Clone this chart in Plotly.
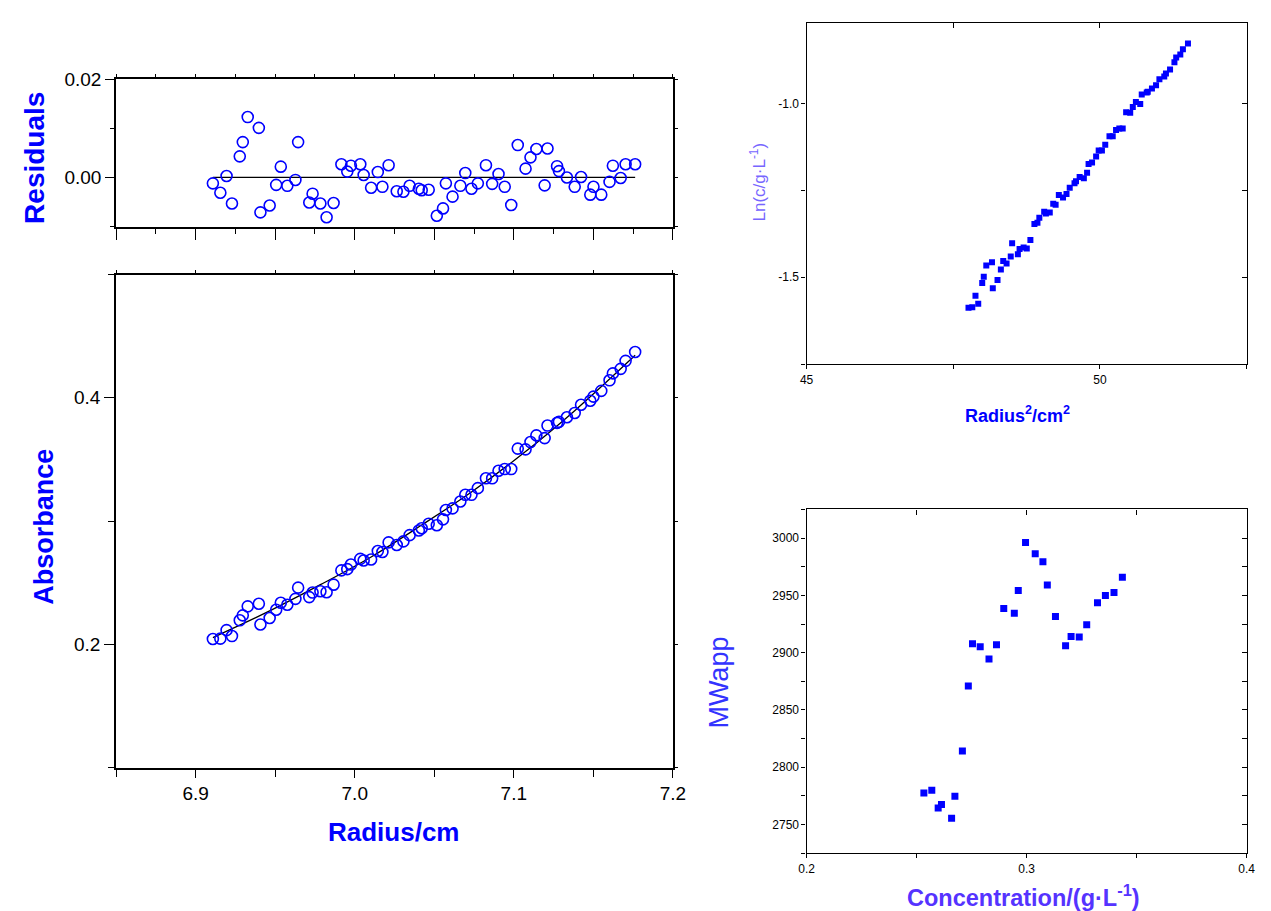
import numpy as np
import plotly.graph_objects as go

# ---- sedimentation-equilibrium scan: radius, absorbance, fit residuals ----
radius = [
    6.9108, 6.9155, 6.9194, 6.9228, 6.9277, 6.9296, 6.9327, 6.9397, 6.9407, 6.9465,
    6.9506, 6.9535, 6.9576, 6.9627, 6.9644, 6.9714, 6.9735, 6.9784, 6.9823, 6.9867,
    6.9916, 6.9953, 6.9976, 7.0035, 7.0056, 7.0103, 7.0145, 7.0174, 7.0213, 7.0264,
    7.0306, 7.0345, 7.0403, 7.0421, 7.0465, 7.0516, 7.0555, 7.0573, 7.0615, 7.0664,
    7.0695, 7.0734, 7.0774, 7.0825, 7.0864, 7.0904, 7.0943, 7.0984, 7.1025, 7.1074,
    7.1105, 7.1142, 7.1194, 7.1212, 7.1272, 7.1284, 7.1334, 7.1383, 7.1423, 7.1481,
    7.1501, 7.1550, 7.1602, 7.1623, 7.1672, 7.1703, 7.1763,
]
absorbance = [
    0.2043, 0.2046, 0.2115, 0.2067, 0.2195, 0.2235, 0.2308, 0.2329, 0.2161, 0.2214,
    0.2281, 0.2337, 0.2321, 0.2369, 0.2460, 0.2383, 0.2420, 0.2431, 0.2423, 0.2484,
    0.2600, 0.2610, 0.2648, 0.2693, 0.2680, 0.2688, 0.2757, 0.2749, 0.2827, 0.2806,
    0.2835, 0.2886, 0.2924, 0.2942, 0.2978, 0.2966, 0.3014, 0.3090, 0.3103, 0.3159,
    0.3213, 0.3213, 0.3267, 0.3347, 0.3347, 0.3408, 0.3422, 0.3422, 0.3588, 0.3582,
    0.3641, 0.3695, 0.3673, 0.3775, 0.3797, 0.3805, 0.3842, 0.3877, 0.3944, 0.3976,
    0.4010, 0.4056, 0.4142, 0.4198, 0.4235, 0.4300, 0.4372,
]
residuals = [
    -0.0012, -0.0031, 0.0003, -0.0053, 0.0043, 0.0072, 0.0123, 0.0101, -0.0071, -0.0057,
    -0.0015, 0.0022, -0.0017, -0.0005, 0.0072, -0.0051, -0.0033, -0.0053, -0.0081, -0.0052,
    0.0027, 0.0012, 0.0024, 0.0027, 0.0005, -0.0021, 0.0011, -0.0019, 0.0025, -0.0028,
    -0.0029, -0.0017, -0.0023, -0.0026, -0.0025, -0.0078, -0.0063, -0.0012, -0.0039, -0.0017,
    0.0009, -0.0023, -0.0012, 0.0025, -0.0013, 0.0007, -0.0019, -0.0056, 0.0066, 0.0018,
    0.0041, 0.0058, -0.0016, 0.0059, 0.0023, 0.0013, 0.0000, -0.0019, 0.0001, -0.0035,
    -0.0019, -0.0035, -0.0009, 0.0024, -0.0001, 0.0027, 0.0027,
]

# fitted single-species curve
fit_radius = [6.9108, 6.9465, 6.9784, 7.0103, 7.0421, 7.0734, 7.1074, 7.1383, 7.1763]
fit_absorbance = [0.2055, 0.2271, 0.2484, 0.2709, 0.2968, 0.3236, 0.3564, 0.3896, 0.4345]

# apparent molecular weight vs local concentration
concentration = [
    0.2533, 0.2569, 0.2598, 0.2613, 0.2659, 0.2674, 0.2708, 0.2735, 0.2754, 0.2789,
    0.2829, 0.2863, 0.2896, 0.2944, 0.2962, 0.2995, 0.3039, 0.3074, 0.3094, 0.3131,
    0.3177, 0.3202, 0.3239, 0.3273, 0.3322, 0.3358, 0.3397, 0.3435,
]
mw_app = [
    2777.6, 2779.9, 2764.5, 2767.4, 2755.5, 2774.7, 2814.2, 2870.8, 2907.8, 2905.2,
    2894.5, 2907.0, 2938.6, 2934.5, 2954.2, 2996.2, 2986.4, 2979.4, 2959.1, 2931.6,
    2906.1, 2914.2, 2913.6, 2924.3, 2943.5, 2949.9, 2952.5, 2965.8,
]

# ln(c) vs r^2 transform (c in g/L, unit extinction)
r_squared = np.array(radius) ** 2
ln_c = np.log(np.array(absorbance))

W, H = 1271, 911
FONT = "Liberation Sans, Arial, sans-serif"
BLUE = "#0000ff"


def dx(a, b):
    return [a / W, b / W]


def dy(top, bottom):
    return [1 - bottom / H, 1 - top / H]


def axis(domain, anchor, rng, lw, ticks, ticklen, show_labels=False, font_size=12,
         dtick=None, tick0=None, fmt=None, minor=None, side=None, overlaying=None,
         tickvals=None, ticktext=None):
    a = dict(
        domain=domain, anchor=anchor, range=rng, showline=True, linecolor="black",
        linewidth=lw, ticks=ticks, ticklen=ticklen, tickwidth=1.3, tickcolor="black",
        showgrid=False, zeroline=False, showticklabels=show_labels,
        tickfont=dict(family=FONT, size=font_size, color="black"), fixedrange=True,
    )
    if tickvals is not None:
        a.update(tickmode="array", tickvals=tickvals, ticktext=ticktext)
    else:
        a.update(tickmode="linear", dtick=dtick, tick0=tick0)
    if fmt:
        a["tickformat"] = fmt
    if minor:
        a["minor"] = minor
    if side:
        a["side"] = side
    if overlaying:
        a["overlaying"] = overlaying
        a.pop("domain")
    return a


def minor(dtick, tick0, ticks, ticklen):
    return dict(dtick=dtick, tick0=tick0, ticks=ticks, ticklen=ticklen,
                tickwidth=1.3, tickcolor="black", showgrid=False)


fig = go.Figure()

# --- residuals panel ---
fig.add_trace(go.Scatter(x=[radius[0], radius[-1]], y=[0, 0], mode="lines",
                         line=dict(color="black", width=1.3), xaxis="x", yaxis="y",
                         hoverinfo="skip", showlegend=False))
fig.add_trace(go.Scatter(x=radius, y=residuals, mode="markers",
                         marker=dict(symbol="circle-open", size=11, color=BLUE,
                                     line=dict(width=1.6, color=BLUE)),
                         xaxis="x", yaxis="y", showlegend=False))

# --- absorbance panel ---
fig.add_trace(go.Scatter(x=fit_radius, y=fit_absorbance, mode="lines",
                         line=dict(color="black", width=1.3, shape="spline"),
                         xaxis="x2", yaxis="y2", hoverinfo="skip", showlegend=False))
fig.add_trace(go.Scatter(x=radius, y=absorbance, mode="markers",
                         marker=dict(symbol="circle-open", size=11, color=BLUE,
                                     line=dict(width=1.6, color=BLUE)),
                         xaxis="x2", yaxis="y2", showlegend=False))

# --- ln(c) vs r^2 panel ---
fig.add_trace(go.Scatter(x=r_squared, y=ln_c, mode="markers",
                         marker=dict(symbol="square", size=6, color=BLUE),
                         xaxis="x3", yaxis="y3", showlegend=False))

# --- MWapp vs concentration panel ---
fig.add_trace(go.Scatter(x=concentration, y=mw_app, mode="markers",
                         marker=dict(symbol="square", size=7, color=BLUE),
                         xaxis="x4", yaxis="y4", showlegend=False))

# empty traces carrying the mirrored (top/right) axes
for i in range(5, 9):
    fig.add_trace(go.Scatter(x=[None], y=[None], xaxis=f"x{i}", yaxis=f"y{i}",
                             showlegend=False, hoverinfo="skip"))

R_RES = [-0.01, 0.02]
R_X = [6.85, 7.2]
R_ABS = [0.1, 0.5]
R_R2 = [45, 52.5]
R_LN = [-1.75, -0.768]
R_C = [0.2, 0.4]
R_MW = [2725, 3025]

L_DOM = dx(110, 676)
R_DOM = dx(812, 1259.5)
RES_DOM = dy(70, 219)
ABS_DOM = dy(267.5, 766)
LN_DOM = dy(13, 358)
MW_DOM = dy(505, 852.5)

fig.update_layout(
    width=W, height=H, margin=dict(l=0, r=0, t=0, b=0),
    paper_bgcolor="white", plot_bgcolor="white", showlegend=False,
    font=dict(family=FONT),
    # residuals
    xaxis=axis(L_DOM, "y", R_X, 2, "outside", 11, dtick=0.05, tick0=6.85,
               minor=minor(0.025, 6.85, "outside", 5)),
    yaxis=axis(RES_DOM, "x", R_RES, 2, "outside", 9, True, 19, dtick=0.02, tick0=0,
               fmt=".2f", minor=minor(0.01, 0, "outside", 4)),
    xaxis5=axis(None, "y5", R_X, 2, "outside", 3, dtick=0.025, tick0=6.85,
                side="top", overlaying="x"),
    yaxis5=axis(None, "x5", R_RES, 2, "outside", 3, dtick=0.01, tick0=0,
                side="right", overlaying="y"),
    # absorbance
    xaxis2=axis(L_DOM, "y2", R_X, 2, "outside", 8, True, 19, dtick=0.1, tick0=6.9,
                fmt=".1f", minor=minor(0.05, 6.85, "outside", 7)),
    yaxis2=axis(ABS_DOM, "x2", R_ABS, 2, "outside", 10, True, 19, dtick=0.2, tick0=0.2,
                fmt=".1f", minor=minor(0.1, 0.1, "outside", 6)),
    xaxis6=axis(None, "y6", R_X, 2, "outside", 3, dtick=0.05, tick0=6.85,
                side="top", overlaying="x2"),
    yaxis6=axis(None, "x6", R_ABS, 2, "outside", 3, dtick=0.1, tick0=0.1,
                side="right", overlaying="y2"),
    # ln(c) vs r^2
    xaxis3=axis(R_DOM, "y3", R_R2, 1.3, "outside", 4, True, 12, dtick=5, tick0=45,
                minor=minor(2.5, 45, "outside", 4)),
    yaxis3=axis(LN_DOM, "x3", R_LN, 1.3, "outside", 4, True, 12,
                tickvals=[-1.5, -1.0], ticktext=["-1.5", "-1.0"],
                minor=dict(tickvals=[-1.75, -1.25], ticks="outside", ticklen=4,
                           tickwidth=1.3, tickcolor="black")),
    xaxis7=axis(None, "y7", R_R2, 1.3, "inside", 5, dtick=2.5, tick0=45,
                side="top", overlaying="x3"),
    yaxis7=axis(None, "x7", R_LN, 1.3, "inside", 5, dtick=0.25, tick0=-1.75,
                side="right", overlaying="y3"),
    # MWapp vs concentration
    xaxis4=axis(R_DOM, "y4", R_C, 1.3, "outside", 4, True, 12, dtick=0.1, tick0=0.2,
                fmt=".1f", minor=minor(0.05, 0.2, "outside", 4)),
    yaxis4=axis(MW_DOM, "x4", R_MW, 1.3, "outside", 4, True, 12, dtick=50, tick0=2750,
                minor=minor(25, 2725, "outside", 4)),
    xaxis8=axis(None, "y8", R_C, 1.3, "inside", 5, dtick=0.05, tick0=0.2,
                side="top", overlaying="x4"),
    yaxis8=axis(None, "x8", R_MW, 1.3, "inside", 5, dtick=25, tick0=2725,
                side="right", overlaying="y4"),
)


def label(text, px, py, size, color, angle=0):
    fig.add_annotation(text=text, x=px / W, y=1 - py / H, xref="paper", yref="paper",
                       showarrow=False, textangle=angle, xanchor="center",
                       yanchor="middle", font=dict(family=FONT, size=size, color=color))


label("<b>Residuals</b>", 27, 150, 28, BLUE, -90)
label("<b>Absorbance</b>", 37, 522, 27, BLUE, -90)
label("<b>Radius/cm</b>", 392, 831, 26, BLUE)
label("Ln(c/g·L<sup>-1</sup>)", 763, 174, 17, "#7766ff", -90)
label("<b>Radius<sup>2</sup>/cm<sup>2</sup></b>", 1026, 409, 18, BLUE)
label("MWapp", 722, 680, 27, "#3333ff", -90)
label("<b>Concentration/(g·L<sup>-1</sup>)</b>", 1033, 896, 23.5, "#5533ff")

# page body without default margin so the figure sits at the window origin
fig.write_html("out.html", post_script="document.body.style.margin='0';")
